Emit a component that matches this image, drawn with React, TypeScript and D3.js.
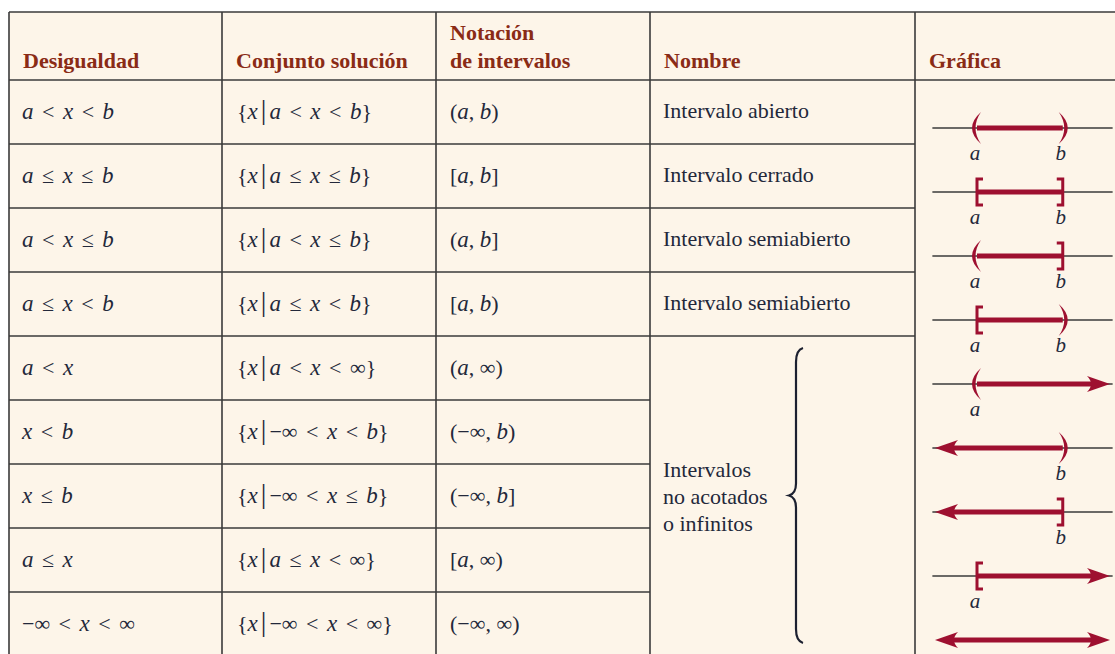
import React from 'react';
import * as d3 from 'd3';

// table contents
const HEADERS = [['Desigualdad'], ['Conjunto solución'], ['Notación', 'de intervalos'], ['Nombre'], ['Gráfica']];
const INEQUALITIES = ['a < x < b', 'a ≤ x ≤ b', 'a < x ≤ b', 'a ≤ x < b', 'a < x', 'x < b', 'x ≤ b', 'a ≤ x', '−∞ < x < ∞'];
const SETS = ['{x|a < x < b}', '{x|a ≤ x ≤ b}', '{x|a < x ≤ b}', '{x|a ≤ x < b}', '{x|a < x < ∞}',
  '{x|−∞ < x < b}', '{x|−∞ < x ≤ b}', '{x|a ≤ x < ∞}', '{x|−∞ < x < ∞}'];
const NOTATIONS = ['(a, b)', '[a, b]', '(a, b]', '[a, b)', '(a, ∞)', '(−∞, b)', '(−∞, b]', '[a, ∞)', '(−∞, ∞)'];
const NAMES = ['Intervalo abierto', 'Intervalo cerrado', 'Intervalo semiabierto', 'Intervalo semiabierto'];
const UNBOUNDED_NAME = ['Intervalos', 'no acotados', 'o infinitos'];

// endpoint kinds for the number-line graphs
const LEFT_END = ['open', 'closed', 'open', 'closed', 'open', 'inf', 'inf', 'closed', 'inf'];
const RIGHT_END = ['open', 'closed', 'closed', 'open', 'inf', 'open', 'closed', 'inf', 'inf'];
const A_VALUE = 2.4;
const B_VALUE = 7.3;

const W = 1115;
const H = 654;
const COLS = [9, 222, 436, 650, 915];
const HEADER_TOP = 12;
const HEADER_BOTTOM = 80;
const ROW_H = 64;
const FONT = '"Liberation Serif", "Times New Roman", serif';
const BG = '#fdf5e9';
const GRID = '#3a3a3a';
const HEAD_COLOR = '#8a2b16';
const TEXT_COLOR = '#23283a';
const RED = '#9e1030';
const FS = 22;

const rowTop = d3.scaleLinear().domain([0, 1]).range([HEADER_BOTTOM, HEADER_BOTTOM + ROW_H]);
const lineX = d3.scaleLinear().domain([0, 10]).range([935, 1110]);

// render a math string: a, b, x in italics, wider gaps round relations
function MathText({ s, x, y }: { s: string; x: number; y: number }) {
  const parts: React.ReactNode[] = [];
  let dx = 0;
  const chars = Array.from(s);
  chars.forEach((c, i) => {
    if (c === ' ') {
      dx += chars[i - 1] === ',' ? 5.5 : 8.5;
      return;
    }
    let pre = dx;
    let post = 0;
    if (c === '|') { pre += 3; post = 3; }
    const italic = c === 'a' || c === 'b' || c === 'x';
    parts.push(
      <tspan key={i} dx={pre} fontStyle={italic ? 'italic' : 'normal'}
        fontSize={c === '|' ? FS + 6 : italic ? FS + 1 : FS}>{c}</tspan>
    );
    dx = post;
  });
  return <text x={x} y={y} fill={TEXT_COLOR} fontSize={FS}>{parts}</text>;
}

function arrowHead(tip: number, y: number, dir: number) {
  const p = d3.path();
  p.moveTo(tip, y);
  p.lineTo(tip - dir * 23, y - 8);
  p.quadraticCurveTo(tip - dir * 15, y, tip - dir * 23, y + 8);
  p.closePath();
  return p.toString();
}

function paren(x: number, y: number, dir: number) {
  // dir = -1 for "(", +1 for ")"
  const p = d3.path();
  p.moveTo(x - dir * 4, y - 16);
  p.quadraticCurveTo(x + dir * 14, y, x - dir * 4, y + 16);
  p.quadraticCurveTo(x + dir * 7, y, x - dir * 4, y - 16);
  p.closePath();
  return p.toString();
}

function bracket(x: number, y: number, dir: number) {
  // dir = -1 for "[", +1 for "]"
  const p = d3.path();
  p.moveTo(x - dir * 6, y - 13);
  p.lineTo(x, y - 13);
  p.lineTo(x, y + 13);
  p.lineTo(x - dir * 6, y + 13);
  return p.toString();
}

function Graph({ i }: { i: number }) {
  const y = rowTop(i) + 48;
  const left = LEFT_END[i];
  const right = RIGHT_END[i];
  const ax = lineX(A_VALUE);
  const bx = lineX(B_VALUE);
  const x0 = left === 'inf' ? lineX(0) : ax;
  const x1 = right === 'inf' ? lineX(10) : bx;
  const red0 = left === 'inf' ? x0 + 16 : x0;
  const red1 = right === 'inf' ? x1 - 16 : x1;
  const showAxis = !(left === 'inf' && right === 'inf');
  return (
    <g>
      {showAxis && (
        <line x1={lineX(-0.15)} x2={lineX(10.15)} y1={y} y2={y} stroke={GRID} strokeWidth={1.4} />
      )}
      <line x1={red0} x2={red1} y1={y} y2={y} stroke={RED} strokeWidth={5} />
      {left === 'inf' && <path d={arrowHead(x0, y, -1)} fill={RED} />}
      {right === 'inf' && <path d={arrowHead(x1, y, 1)} fill={RED} />}
      {left === 'open' && <path d={paren(ax, y, -1)} fill={RED} />}
      {right === 'open' && <path d={paren(bx, y, 1)} fill={RED} />}
      {left === 'closed' && <path d={bracket(ax, y, -1)} fill="none" stroke={RED} strokeWidth={3} />}
      {right === 'closed' && <path d={bracket(bx, y, 1)} fill="none" stroke={RED} strokeWidth={3} />}
      {left !== 'inf' && (
        <text x={ax - 2} y={y + 32} textAnchor="middle" fontStyle="italic" fontSize={21} fill={TEXT_COLOR}>a</text>
      )}
      {right !== 'inf' && (
        <text x={bx - 2} y={y + 32} textAnchor="middle" fontStyle="italic" fontSize={21} fill={TEXT_COLOR}>b</text>
      )}
    </g>
  );
}

function brace(x: number, top: number, bottom: number) {
  const mid = (top + bottom) / 2;
  const p = d3.path();
  p.moveTo(x + 7, top);
  p.quadraticCurveTo(x, top + 2, x, top + 14);
  p.lineTo(x, mid - 12);
  p.quadraticCurveTo(x, mid - 2, x - 7, mid);
  p.quadraticCurveTo(x, mid + 2, x, mid + 12);
  p.lineTo(x, bottom - 14);
  p.quadraticCurveTo(x, bottom - 2, x + 7, bottom);
  return p.toString();
}

export default function App() {
  const n = INEQUALITIES.length;
  const tableBottom = rowTop(n);
  const rows = d3.range(n);
  return (
    <svg width={W} height={H} style={{ position: 'absolute', left: 0, top: 0, display: 'block' }}
      fontFamily={FONT}>
      <rect x={0} y={0} width={W} height={H} fill="#ffffff" />
      <rect x={COLS[0]} y={HEADER_TOP} width={W - COLS[0]} height={tableBottom - HEADER_TOP} fill={BG} />

      {/* grid */}
      <line x1={COLS[0]} x2={W} y1={HEADER_TOP} y2={HEADER_TOP} stroke={GRID} strokeWidth={1.6} />
      <line x1={COLS[0]} x2={W} y1={HEADER_BOTTOM} y2={HEADER_BOTTOM} stroke={GRID} strokeWidth={1.6} />
      {COLS.map((cx, k) => (
        <line key={k} x1={cx} x2={cx} y1={HEADER_TOP} y2={tableBottom} stroke={GRID} strokeWidth={1.6} />
      ))}
      {rows.slice(1).map(i => (
        <line key={i} x1={COLS[0]} x2={i <= NAMES.length ? COLS[4] : COLS[3]} y1={rowTop(i)} y2={rowTop(i)}
          stroke={GRID} strokeWidth={1.6} />
      ))}

      {/* headers */}
      {HEADERS.map((lines, k) => (
        <text key={k} x={COLS[k] + 14} fontWeight="bold" fontSize={FS} fill={HEAD_COLOR}>
          {lines.map((t, j) => (
            <tspan key={j} x={COLS[k] + 14} y={68 - (lines.length - 1 - j) * 28}>{t}</tspan>
          ))}
        </text>
      ))}

      {/* body */}
      {rows.map(i => (
        <g key={i}>
          <MathText s={INEQUALITIES[i]} x={COLS[0] + 13} y={rowTop(i) + 39} />
          <MathText s={SETS[i]} x={COLS[1] + 15} y={rowTop(i) + 39} />
          <MathText s={NOTATIONS[i]} x={COLS[2] + 14} y={rowTop(i) + 39} />
          {i < NAMES.length && (
            <text x={COLS[3] + 13} y={rowTop(i) + 38} fontSize={FS} fill={TEXT_COLOR}>{NAMES[i]}</text>
          )}
          <Graph i={i} />
        </g>
      ))}

      {/* merged unbounded cell */}
      <text fontSize={FS} fill={TEXT_COLOR}>
        {UNBOUNDED_NAME.map((t, j) => (
          <tspan key={j} x={COLS[3] + 13} y={477 + j * 27}>{t}</tspan>
        ))}
      </text>
      <path d={brace(796, rowTop(NAMES.length) + 12, rowTop(n) - 13)} fill="none" stroke="#1c2030" strokeWidth={2.2} />
    </svg>
  );
}
